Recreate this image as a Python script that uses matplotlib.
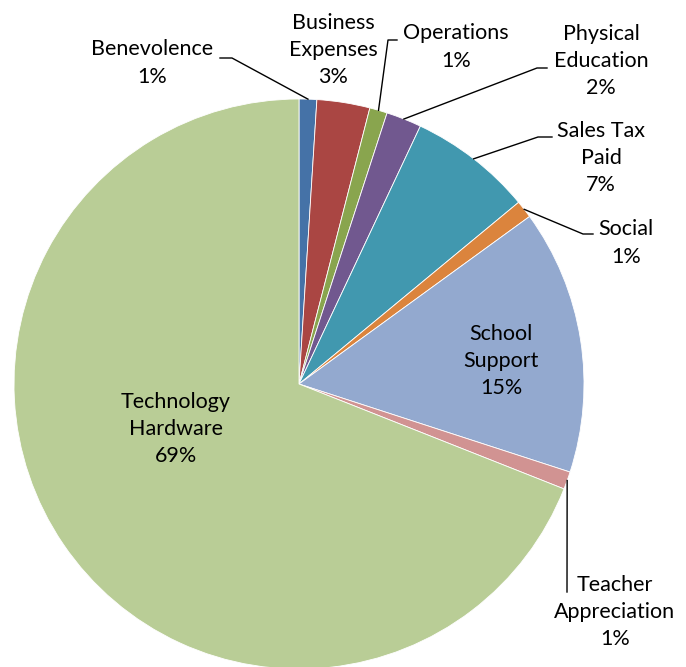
import numpy as np
import matplotlib
matplotlib.use("Agg")
import matplotlib.pyplot as plt

# data -------------------------------------
categories = ["Benevolence", "Business\nExpenses", "Operations", "Physical\nEducation",
              "Sales Tax\nPaid", "Social", "School\nSupport", "Teacher\nAppreciation",
              "Technology\nHardware"]
shares = [1, 3, 1, 2, 7, 1, 15, 1, 69]
colors = ["#4572A7", "#AA4643", "#89A54E", "#71588F", "#4198AF",
          "#DB843D", "#93A9CF", "#D19392", "#B9CD96"]

W, H = 686, 667
CX, CY, R = 299, 384, 285  # pie centre / radius in pixels (y from top)

plt.rcParams["font.family"] = ["Lato", "DejaVu Sans"]

fig = plt.figure(figsize=(W / 100, H / 100), dpi=100)
ax = fig.add_axes([0, 0, 1, 1])
ax.axis("off")

ax.pie(shares, colors=colors, startangle=90, counterclock=False,
       center=(CX, H - CY), radius=R,
       wedgeprops=dict(edgecolor="white", linewidth=0.6))
ax.set_xlim(0, W)
ax.set_ylim(0, H)

# label layout (pixel positions, y from top) and leader elbows
label_pos = [(152, 63), (333, 50), (456, 47), (601, 61), (601, 158),
             (626, 243), (501, 361), (615, 612), (176, 429)]
leaders = {
    0: [(232, 58), (220, 58)],
    2: [(388, 40), (397, 40)],
    3: [(537, 68), (547, 68)],
    4: [(538, 137), (552, 137)],
    5: [(583, 234), (593, 234)],
    7: [(567, 592)],
}

total = sum(shares)
cum = np.cumsum([0] + shares)
for i, (name, val) in enumerate(zip(categories, shares)):
    pct = round(100 * val / total)
    x, y = label_pos[i]
    ax.text(x, H - y, f"{name}\n{pct}%", ha="center", va="center",
            fontsize=15.5, linespacing=1.45, color="black")
    if i in leaders:
        mid = (cum[i] + cum[i + 1]) / 2 / total * 360
        ex = CX + R * np.sin(np.radians(mid))
        ey = CY - R * np.cos(np.radians(mid))
        pts = [(ex, ey)] + leaders[i]
        ax.plot([p[0] for p in pts], [H - p[1] for p in pts], color="black", lw=1.0)

fig.savefig("out.png", dpi=100)
